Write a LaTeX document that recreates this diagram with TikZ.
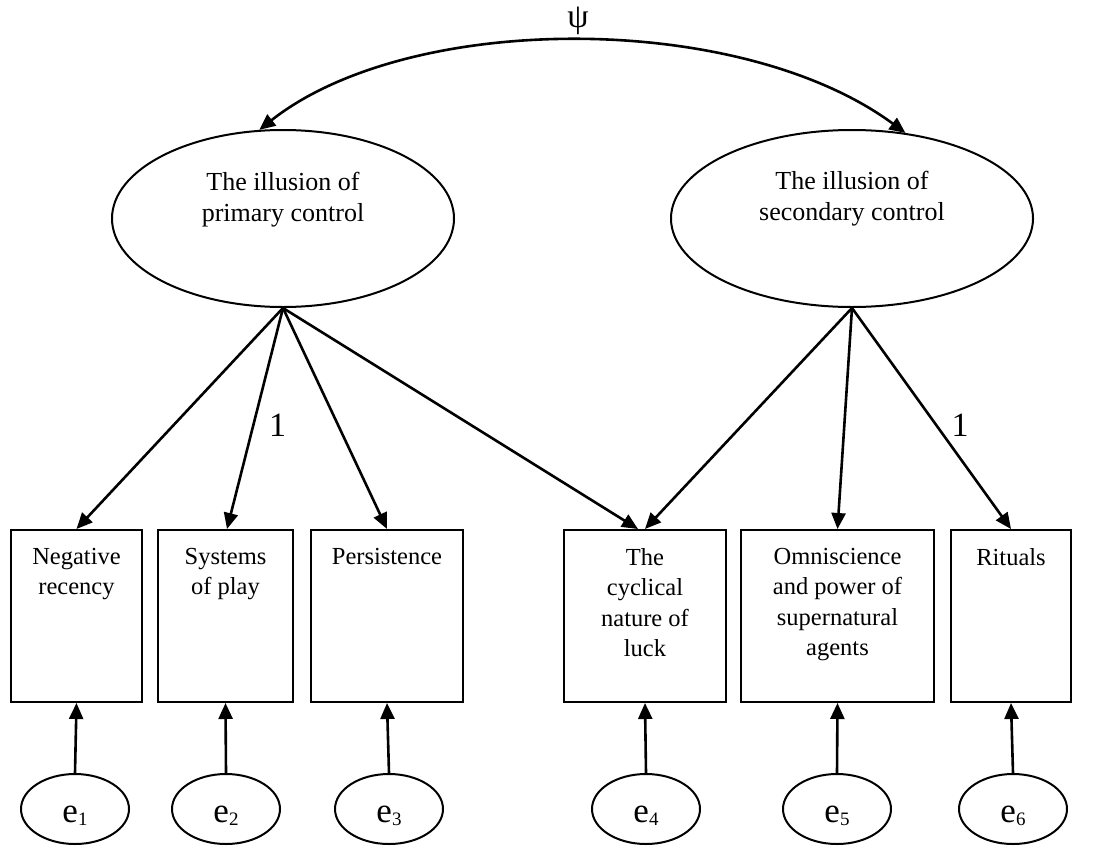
\documentclass[tikz,border=0pt]{standalone}
\usepackage{fontspec}
\setmainfont{Liberation Serif}
\usetikzlibrary{shapes.geometric,arrows.meta,calc}
\begin{document}
\begin{tikzpicture}[x=1pt,y=-1pt,
  lat/.style={draw,ellipse,line width=2pt,inner sep=0pt,minimum height=177pt},
  obs/.style={draw,rectangle,line width=2pt,inner sep=0pt,minimum height=172pt},
  err/.style={draw,ellipse,line width=2pt,inner sep=0pt,minimum width=108pt,minimum height=70pt},
  arr/.style={line width=2.6pt,-{Triangle[length=16pt,width=14pt]}},
  dbl/.style={line width=2.6pt,{Triangle[length=16pt,width=14pt]}-{Triangle[length=16pt,width=14pt]}},
  boxtxt/.style={anchor=north,align=center,inner sep=0pt,font=\fontsize{24.5}{30.5}\selectfont},
  lattxt/.style={anchor=north,align=center,inner sep=0pt,font=\fontsize{26}{31}\selectfont},
  errtxt/.style={anchor=base,inner sep=0pt,font=\fontsize{35}{40}\selectfont},
  num/.style={inner sep=0pt,font=\fontsize{34}{40}\selectfont}]
\useasboundingbox (0,0) rectangle (1097,854);
% latent factors
\node[lat,minimum width=342pt] (L) at (283,218.5) {};
\node[lat,minimum width=362pt] (R) at (852,218.5) {};
\node[lattxt] (Lt) at (283,172) {The illusion of\\primary control};
\node[lattxt] (Rt) at (852,171) {The illusion of\\secondary control};
% psi
\draw[dbl] (L.105) .. controls (410,11) and (740,11) .. (R.58);
\node[inner sep=0pt,font=\fontsize{34}{36}\selectfont] (psi) at (578,21) {ψ};
% observed
\node[obs,minimum width=131pt] (B1) at (76.5,616) {};
\node[obs,minimum width=135pt] (B2) at (225.5,616) {};
\node[obs,minimum width=152pt] (B3) at (387,616) {};
\node[obs,minimum width=162pt] (B4) at (645,616) {};
\node[obs,minimum width=193pt] (B5) at (837.5,616) {};
\node[obs,minimum width=120pt] (B6) at (1011,616) {};
\node[boxtxt] (B1t) at (76.5,548) {Negative\\recency};
\node[boxtxt] (B2t) at (225.5,548) {Systems\\of play};
\node[boxtxt] (B3t) at (387,548) {Persistence};
\node[boxtxt] (B4t) at (645,548) {The\\cyclical\\nature of\\luck};
\node[boxtxt] (B5t) at (837.5,548) {Omniscience\\and power of\\supernatural\\agents};
\node[boxtxt] (B6t) at (1011,548) {Rituals};
% errors
\node[err] (E1) at (75,809) {};
\node[err] (E2) at (226,809) {};
\node[err] (E3) at (389,809) {};
\node[err] (E4) at (646,809) {};
\node[err] (E5) at (837,809) {};
\node[err] (E6) at (1013,809) {};
\node[errtxt] (E1t) at (75,822) {e\raisebox{-3pt}{\fontsize{19}{19}\selectfont 1}};
\node[errtxt] (E2t) at (226,822) {e\raisebox{-3pt}{\fontsize{19}{19}\selectfont 2}};
\node[errtxt] (E3t) at (389,822) {e\raisebox{-3pt}{\fontsize{19}{19}\selectfont 3}};
\node[errtxt] (E4t) at (646,822) {e\raisebox{-3pt}{\fontsize{19}{19}\selectfont 4}};
\node[errtxt] (E5t) at (837,822) {e\raisebox{-3pt}{\fontsize{19}{19}\selectfont 5}};
\node[errtxt] (E6t) at (1013,822) {e\raisebox{-3pt}{\fontsize{19}{19}\selectfont 6}};
\foreach \i in {1,...,6} {\draw[arr] (E\i.north) -- (B\i.south);}
% loadings
\draw[arr] (L.south) -- (B1.north);
\draw[arr] (L.south) -- ($(B2.north)+(1.5,0)$);
\draw[arr] (L.south) -- (B3.north);
\draw[arr] (L.south) -- ($(B4.north)+(-7,0)$);
\draw[arr] (R.south) -- (B4.north);
\draw[arr] (R.south) -- (B5.north);
\draw[arr] (R.south) -- (B6.north);
\node[num] (one1) at (277.5,425) {1};
\node[num] (one2) at (960,425) {1};
\end{tikzpicture}
\end{document}
